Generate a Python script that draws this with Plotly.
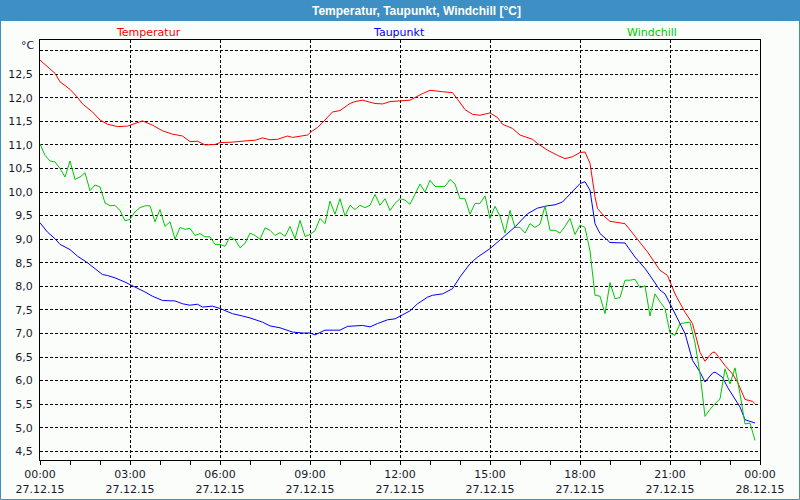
import pandas as pd
import plotly.graph_objects as go

# ---------------- data (minutes after 27.12.15 00:00) ----------------
temp_min = [0, 15, 30, 40, 60, 75, 85, 105, 120, 135, 155, 175, 190, 205, 225, 245, 265, 285,
            300, 315, 330, 350, 360, 385, 415, 430, 445, 460, 475, 495, 505, 535, 545, 555,
            570, 585, 600, 620, 630, 645, 670, 685, 700, 720, 740, 765, 780, 805, 825, 835,
            850, 865, 880, 900, 915, 925, 945, 960, 985, 995, 1015, 1035, 1050, 1065, 1080,
            1090, 1100, 1110, 1115, 1130, 1140, 1170, 1195, 1215, 1240, 1255, 1270, 1290,
            1305, 1315, 1320, 1330, 1345, 1350, 1370, 1385, 1395, 1410, 1425, 1430]
temp_val = [12.80, 12.66, 12.52, 12.34, 12.18, 12.01, 11.87, 11.70, 11.53, 11.44, 11.39, 11.40,
            11.46, 11.51, 11.42, 11.30, 11.23, 11.19, 11.07, 11.08, 11.00, 11.01, 11.05, 11.06,
            11.09, 11.10, 11.15, 11.11, 11.12, 11.19, 11.16, 11.21, 11.30, 11.37, 11.53, 11.70,
            11.73, 11.88, 11.92, 11.95, 11.88, 11.87, 11.92, 11.94, 11.95, 12.09, 12.16, 12.13,
            12.11, 11.97, 11.75, 11.65, 11.63, 11.68, 11.58, 11.44, 11.35, 11.21, 11.12, 11.03,
            10.89, 10.78, 10.71, 10.75, 10.84, 10.85, 10.61, 9.90, 9.65, 9.47, 9.38, 9.33,
            9.01, 8.73, 8.34, 8.23, 7.84, 7.45, 7.21, 6.82, 6.60, 6.41, 6.60, 6.60, 6.32, 6.14,
            5.97, 5.60, 5.56, 5.51]

dew_min = [0, 15, 30, 40, 60, 75, 95, 115, 125, 135, 150, 170, 190, 210, 225, 245, 270, 285,
           300, 315, 325, 345, 360, 385, 405, 420, 445, 460, 480, 505, 525, 540, 550, 570,
           600, 615, 645, 660, 675, 695, 710, 720, 740, 755, 775, 785, 805, 825, 840, 860,
           875, 900, 915, 935, 950, 975, 995, 1015, 1030, 1045, 1065, 1080, 1090, 1100, 1110,
           1120, 1135, 1140, 1170, 1190, 1210, 1240, 1250, 1270, 1290, 1305, 1320, 1330,
           1345, 1350, 1365, 1375, 1390, 1400, 1410, 1420, 1430]
dew_val = [9.35, 9.15, 9.01, 8.89, 8.78, 8.64, 8.50, 8.34, 8.25, 8.23, 8.18, 8.09, 7.99, 7.88,
           7.79, 7.70, 7.69, 7.63, 7.60, 7.62, 7.56, 7.58, 7.53, 7.42, 7.37, 7.33, 7.24, 7.16,
           7.12, 7.03, 7.01, 7.01, 6.97, 7.07, 7.07, 7.15, 7.17, 7.14, 7.21, 7.29, 7.31, 7.37,
           7.48, 7.63, 7.77, 7.81, 7.84, 7.95, 8.20, 8.48, 8.62, 8.80, 8.94, 9.13, 9.26, 9.54,
           9.66, 9.71, 9.73, 9.79, 10.00, 10.18, 10.22, 10.04, 9.33, 9.12, 8.98, 8.93, 8.92,
           8.62, 8.38, 7.92, 7.84, 7.42, 7.00, 6.43, 6.18, 5.97, 6.16, 6.18, 6.07, 5.86, 5.61,
           5.44, 5.17, 5.14, 5.10]

# windchill: one value every 10 minutes, 00:00 .. 23:50
wc_val = [11.02, 10.78, 10.66, 10.64, 10.50, 10.32, 10.66, 10.27, 10.32, 10.41, 10.03, 10.15,
          10.11, 9.77, 9.71, 9.72, 9.61, 9.39, 9.42, 9.58, 9.67, 9.71, 9.71, 9.37, 9.63, 9.27,
          9.37, 9.00, 9.25, 9.21, 9.23, 9.08, 9.12, 9.05, 9.05, 8.89,
          8.89, 8.85, 9.05, 8.99, 8.82, 8.91, 9.13, 9.08, 9.00, 9.24, 9.19, 9.08, 9.14, 9.06,
          9.27, 9.01, 9.40, 9.06, 9.10, 9.18, 9.44, 9.33, 9.81, 9.53, 9.86, 9.49, 9.72, 9.63,
          9.72, 9.67, 9.72, 9.95, 9.72, 9.86, 9.61, 9.76,
          9.86, 9.83, 9.74, 9.95, 10.17, 10.00, 10.25, 10.12, 10.12, 10.12, 10.27, 10.17, 9.86,
          9.86, 9.53, 9.76, 9.76, 9.92, 9.44, 9.70, 9.49, 9.13, 9.61, 9.25, 9.25, 9.13, 9.33,
          9.25, 9.32, 9.70, 9.19, 9.19, 9.13, 9.27, 9.44, 9.10,
          9.30, 9.25, 8.75, 7.81, 7.79, 7.42, 8.08, 7.74, 7.76, 8.13, 8.13, 8.15, 7.97, 8.01,
          7.37, 7.84, 7.67, 7.53, 7.01, 6.96, 7.21, 7.22, 7.24, 6.80, 6.14, 5.24, 5.39, 5.51,
          5.61, 6.25, 5.93, 6.27, 5.72, 5.08, 5.10, 4.73]
wc_min = [10 * i for i in range(len(wc_val))]

x_tickvals_h = [0, 3, 6, 9, 12, 15, 18, 21, 24]
x_ticktext = ["00:00<br>27.12.15", "03:00<br>27.12.15", "06:00<br>27.12.15",
              "09:00<br>27.12.15", "12:00<br>27.12.15", "15:00<br>27.12.15",
              "18:00<br>27.12.15", "21:00<br>27.12.15", "00:00<br>28.12.15"]
y_tickvals = [4.5, 5.0, 5.5, 6.0, 6.5, 7.0, 7.5, 8.0, 8.5, 9.0, 9.5, 10.0, 10.5, 11.0,
              11.5, 12.0, 12.5, 13.0]
y_ticktext = [f"{v:.1f}".replace(".", ",") for v in y_tickvals[:-1]] + [""]

series_names = ["Temperatur", "Taupunkt", "Windchill"]
series_colors = ["#ff0000", "#0000ff", "#00c800"]

# ---------------- figure ----------------
t0 = pd.Timestamp("2015-12-27 00:00")
def to_time(mins):
    return [t0 + pd.Timedelta(minutes=m) for m in mins]

FONT = "DejaVu Sans"
BG = "#fbfdfb"
W, H = 800, 500
L, R, T, B = 40, 40, 40, 40
pw, ph = W - L - R, H - T - B

def px_x(x):
    return (x - L) / pw
def px_y(y):
    return 1 - (y - T) / ph

fig = go.Figure()
for mins, vals, name, col in [(temp_min, temp_val, series_names[0], series_colors[0]),
                              (dew_min, dew_val, series_names[1], series_colors[1]),
                              (wc_min, wc_val, series_names[2], series_colors[2])]:
    fig.add_trace(go.Scatter(x=to_time(mins), y=vals, mode="lines", name=name,
                             line=dict(color=col, width=1), showlegend=False))

fig.update_layout(
    width=W, height=H,
    margin=dict(l=L, r=R, t=T, b=B, pad=0, autoexpand=False),
    paper_bgcolor=BG, plot_bgcolor=BG,
    font=dict(family=FONT, size=10, color="#000000"),
)
fig.update_xaxes(
    type="date", automargin=False,
    range=[t0, t0 + pd.Timedelta(hours=24)],
    tickvals=[t0 + pd.Timedelta(hours=h) for h in x_tickvals_h],
    ticktext=x_ticktext,
    showgrid=True, gridcolor="#000000", gridwidth=1, griddash="3px,2px",
    showline=True, linecolor="#000000", linewidth=1, mirror=True,
    ticks="outside", ticklen=4, tickcolor="#000000",
    minor=dict(dtick=3600000, ticks="outside", ticklen=4, tickcolor="#000000", showgrid=False),
    tickfont=dict(family=FONT, size=11, color="#1a1a2e"),
    zeroline=False,
)
fig.update_yaxes(
    automargin=False,
    range=[4.315, 13.227],
    tickvals=y_tickvals, ticktext=y_ticktext,
    showgrid=True, gridcolor="#000000", gridwidth=1, griddash="3px,2px",
    showline=True, linecolor="#000000", linewidth=1, mirror=True,
    ticks="", ticklabelstandoff=4,
    tickfont=dict(family=FONT, size=11, color="#1a1a2e"),
    zeroline=False,
)

# title bar and outer border
fig.add_shape(type="rect", xref="paper", yref="paper",
              x0=px_x(0), x1=px_x(W), y0=px_y(21), y1=px_y(0),
              fillcolor="#3d8fc4", line=dict(width=0), layer="below")
fig.add_shape(type="rect", xref="paper", yref="paper",
              x0=px_x(0.5), x1=px_x(W - 0.5), y0=px_y(H - 0.5), y1=px_y(0.5),
              line=dict(color="#3d8fc4", width=1), fillcolor="rgba(0,0,0,0)")

fig.add_annotation(text="<b>Temperatur, Taupunkt, Windchill [°C]</b>", xref="paper", yref="paper",
                   x=px_x(416), y=px_y(10.5), xanchor="center", yanchor="middle", showarrow=False,
                   font=dict(family="Liberation Sans", size=12, color="#ffffff"))

legend_x = [148, 399, 652]
for name, col, xp in zip(series_names, series_colors, legend_x):
    fig.add_annotation(text=name, xref="paper", yref="paper", x=px_x(xp), y=px_y(32),
                       xanchor="center", yanchor="middle", showarrow=False,
                       font=dict(family=FONT, size=11, color=col))

fig.add_annotation(text="°C", xref="paper", yref="paper", x=px_x(37), y=px_y(46),
                   xanchor="right", yanchor="middle", showarrow=False,
                   font=dict(family=FONT, size=11, color="#1a1a2e"))

fig.write_html("out.html")
